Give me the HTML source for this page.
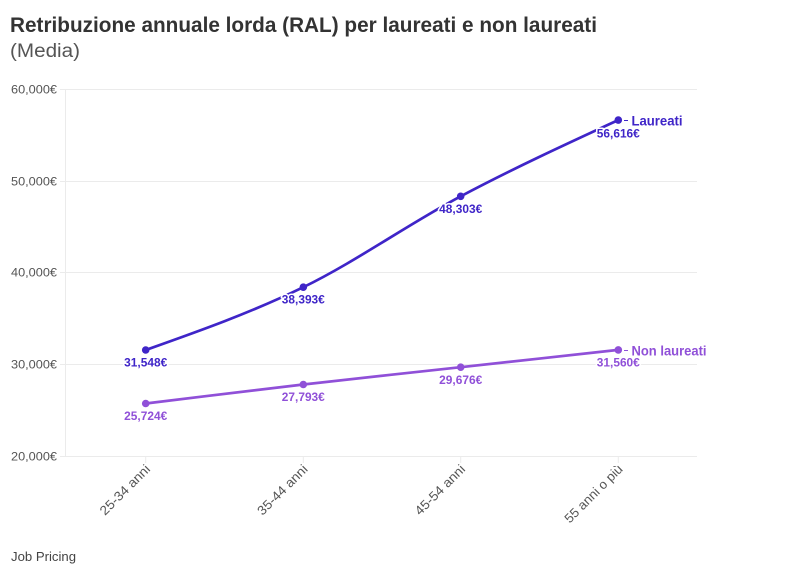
<!DOCTYPE html>
<html><head><meta charset="utf-8"><style>
html,body{margin:0;padding:0;background:#fff;}
svg{display:block;}
text{font-family:"Liberation Sans",Arial,sans-serif;}
.yl{font-size:12px;fill:#555;}
.xl{font-size:13px;fill:#555;}
.vl{font-size:11.5px;font-weight:bold;paint-order:stroke;stroke:#fff;stroke-width:3px;stroke-linejoin:round;}
</style></head><body>
<svg width="796" height="575" viewBox="0 0 796 575" xmlns="http://www.w3.org/2000/svg">
<rect width="796" height="575" fill="#fff"/>
<text x="10" y="32" font-size="21" font-weight="bold" fill="#333" textLength="587" lengthAdjust="spacingAndGlyphs">Retribuzione annuale lorda (RAL) per laureati e non laureati</text>
<text x="10" y="57" font-size="19" fill="#555" textLength="70" lengthAdjust="spacingAndGlyphs">(Media)</text>

<!-- grid -->
<g stroke="#ebebeb" stroke-width="1">
<line x1="60" y1="89.5" x2="697" y2="89.5"/>
<line x1="60" y1="181.5" x2="697" y2="181.5"/>
<line x1="60" y1="272.5" x2="697" y2="272.5"/>
<line x1="60" y1="364.5" x2="697" y2="364.5"/>
<line x1="60" y1="456.5" x2="697" y2="456.5"/>
<line x1="65.5" y1="89" x2="65.5" y2="456"/>
<line x1="145.7" y1="456" x2="145.7" y2="463"/>
<line x1="303.3" y1="456" x2="303.3" y2="463"/>
<line x1="460.7" y1="456" x2="460.7" y2="463"/>
<line x1="618.3" y1="456" x2="618.3" y2="463"/>
</g>

<g class="yl" text-anchor="end">
<text x="57" y="93.5" textLength="46" lengthAdjust="spacingAndGlyphs">60,000€</text>
<text x="57" y="185.5" textLength="46" lengthAdjust="spacingAndGlyphs">50,000€</text>
<text x="57" y="276.5" textLength="46" lengthAdjust="spacingAndGlyphs">40,000€</text>
<text x="57" y="368.5" textLength="46" lengthAdjust="spacingAndGlyphs">30,000€</text>
<text x="57" y="460.5" textLength="46" lengthAdjust="spacingAndGlyphs">20,000€</text>
</g>

<g class="xl" text-anchor="end">
<text transform="translate(151,470) rotate(-45)" textLength="65" lengthAdjust="spacingAndGlyphs">25-34 anni</text>
<text transform="translate(308.5,470) rotate(-45)" textLength="65" lengthAdjust="spacingAndGlyphs">35-44 anni</text>
<text transform="translate(466,470) rotate(-45)" textLength="65" lengthAdjust="spacingAndGlyphs">45-54 anni</text>
<text transform="translate(623.5,470) rotate(-45)" textLength="76" lengthAdjust="spacingAndGlyphs">55 anni o più</text>
</g>

<!-- Non laureati -->
<path d="M145.7,403.5 C198.2,397.03 250.8,390.55 303.3,384.5 C355.8,378.45 408.2,372.96 460.7,367.2 C513.2,361.44 565.8,355.66 618.3,349.9" fill="none" stroke="#9050d8" stroke-width="2.7"/>
<g fill="#9050d8">
<circle cx="145.7" cy="403.5" r="3.8"/>
<circle cx="303.3" cy="384.5" r="3.8"/>
<circle cx="460.7" cy="367.2" r="3.8"/>
<circle cx="618.3" cy="349.9" r="3.8"/>
</g>

<!-- Laureati -->
<path d="M145.7,350 C198.2,331.41 250.8,312.81 303.3,287.2 C355.8,261.59 408.2,224.16 460.7,196.3 C513.2,168.44 565.8,144.25 618.3,120.05" fill="none" stroke="#3f25c8" stroke-width="2.7"/>
<g fill="#3f25c8">
<circle cx="145.7" cy="350" r="3.8"/>
<circle cx="303.3" cy="287.2" r="3.8"/>
<circle cx="460.7" cy="196.3" r="3.8"/>
<circle cx="618.3" cy="120.05" r="3.8"/>
</g>

<!-- value labels -->
<g class="vl" text-anchor="middle" fill="#3f25c8">
<text x="145.7" y="366.5" textLength="43" lengthAdjust="spacingAndGlyphs">31,548€</text>
<text x="303.3" y="303.5" textLength="43" lengthAdjust="spacingAndGlyphs">38,393€</text>
<text x="460.7" y="213" textLength="43" lengthAdjust="spacingAndGlyphs">48,303€</text>
<text x="618.3" y="137.5" textLength="43" lengthAdjust="spacingAndGlyphs">56,616€</text>
</g>
<g class="vl" text-anchor="middle" fill="#9050d8">
<text x="145.7" y="420" textLength="43" lengthAdjust="spacingAndGlyphs">25,724€</text>
<text x="303.3" y="401" textLength="43" lengthAdjust="spacingAndGlyphs">27,793€</text>
<text x="460.7" y="384" textLength="43" lengthAdjust="spacingAndGlyphs">29,676€</text>
<text x="618.3" y="366.5" textLength="43" lengthAdjust="spacingAndGlyphs">31,560€</text>
</g>

<!-- series labels -->
<line x1="624" y1="120.5" x2="628" y2="120.5" stroke="#3f25c8" stroke-width="1"/>
<text x="631.5" y="125.5" font-size="14" font-weight="bold" fill="#3f25c8" textLength="51" lengthAdjust="spacingAndGlyphs">Laureati</text>
<line x1="624" y1="350.5" x2="628" y2="350.5" stroke="#9050d8" stroke-width="1"/>
<text x="631.5" y="355.5" font-size="14" font-weight="bold" fill="#9050d8" textLength="75" lengthAdjust="spacingAndGlyphs">Non laureati</text>

<text x="11" y="561" font-size="13" fill="#444" textLength="65" lengthAdjust="spacingAndGlyphs">Job Pricing</text>
</svg>
</body></html>
